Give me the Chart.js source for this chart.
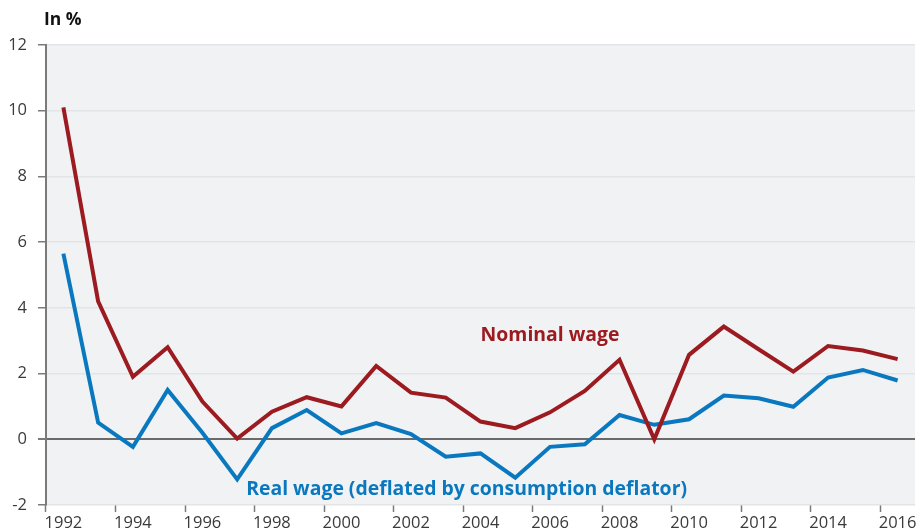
<!DOCTYPE html>
<html>
<head>
<meta charset="utf-8">
<script src="https://cdn.jsdelivr.net/npm/chart.js@4.4.1/dist/chart.umd.min.js"></script>
<style>
  body { margin: 0; background: #ffffff; }
  #chart { display: block; }
</style>
</head>
<body>
<canvas id="chart" width="920" height="532"></canvas>
<script>
// years on the x axis
const years = ['1992', '1993', '1994', '1995', '1996', '1997', '1998', '1999', '2000', '2001',
    '2002', '2003', '2004', '2005', '2006', '2007', '2008', '2009', '2010', '2011',
    '2012', '2013', '2014', '2015', '2016'];

// nominal wage growth, in %
const nominalWage = [10.1, 4.2, 1.9, 2.8, 1.15, 0.02, 0.84, 1.28, 1.0, 2.23,
    1.42, 1.27, 0.54, 0.34, 0.82, 1.47, 2.42, 0.0, 2.57, 3.43,
    2.74, 2.06, 2.84, 2.7, 2.44];

// real wage growth (deflated by consumption deflator), in %
const realWage = [5.65, 0.51, -0.23, 1.5, 0.2, -1.22, 0.34, 0.89, 0.18, 0.49,
    0.16, -0.53, -0.43, -1.17, -0.23, -0.15, 0.74, 0.44, 0.61, 1.33,
    1.25, 0.99, 1.88, 2.11, 1.79];

const yMin = -2;
const yMax = 12;
const yStep = 2;

const axisTitle = 'In %';
const nominalLabel = 'Nominal wage';
const realLabel = 'Real wage (deflated by consumption deflator)';

const RED = '#9b1b20';
const BLUE = '#0a78bf';

Chart.defaults.font.family = "'Open Sans', 'Noto Sans', sans-serif";

// grey plot background + inline labels
const decorations = {
    id: 'decorations',
    beforeDraw(chart) {
        const { ctx, chartArea } = chart;
        ctx.save();
        ctx.fillStyle = '#f1f2f4';
        ctx.fillRect(chartArea.left, chartArea.top, chartArea.right - chartArea.left, chartArea.bottom - chartArea.top);
        ctx.restore();
    },
    afterDraw(chart) {
        const { ctx } = chart;
        const x = chart.scales.x;
        const y = chart.scales.y;
        ctx.save();
        ctx.textBaseline = 'alphabetic';

        ctx.fillStyle = '#111111';
        ctx.font = "bold 17.5px 'Open Sans', sans-serif";
        ctx.textAlign = 'left';
        ctx.fillText(axisTitle, 44, 24.5);

        ctx.textAlign = 'center';
        ctx.font = "bold 19.4px 'Open Sans', sans-serif";
        ctx.fillStyle = RED;
        ctx.fillText(nominalLabel, x.getPixelForValue(14), y.getPixelForValue(3.0));

        ctx.fillStyle = BLUE;
        ctx.fillText(realLabel, x.getPixelForValue(11.6), y.getPixelForValue(-1.7));
        ctx.restore();
    }
};

const data = {
    labels: years,
    datasets: [
        {
            label: nominalLabel,
            data: nominalWage,
            borderColor: RED,
            backgroundColor: RED,
            borderWidth: 4,
            pointRadius: 0,
            fill: false,
        },
        {
            label: realLabel,
            data: realWage,
            borderColor: BLUE,
            backgroundColor: BLUE,
            borderWidth: 4,
            pointRadius: 0,
            fill: false,
        },
    ]
};

const config = {
    type: 'line',
    data: data,
    options: {
        responsive: false,
        animation: false,
        devicePixelRatio: 1,
        layout: {
            padding: { left: 0, top: 45, right: 5, bottom: 0 }
        },
        elements: {
            line: {
                tension: 0,
                borderJoinStyle: 'miter',
                borderCapStyle: 'butt',
            }
        },
        scales: {
            x: {
                offset: true,
                afterFit: (scale) => { scale.height = 27; },
                border: { display: false },
                grid: {
                    offset: true,
                    drawOnChartArea: false,
                    tickLength: 7,
                    tickWidth: 1.5,
                    tickColor: (ctx) => ctx.index % 2 === 0 ? '#7a7a7a' : 'rgba(0,0,0,0)',
                },
                ticks: {
                    autoSkip: false,
                    maxRotation: 0,
                    padding: 1,
                    color: '#3a3a3a',
                    font: { size: 16.5 },
                    callback: function (value, index) {
                        return index % 2 === 0 ? this.getLabelForValue(value) : '';
                    }
                }
            },
            y: {
                min: yMin,
                max: yMax,
                afterFit: (scale) => { scale.width = 46; },
                border: { color: '#7a7a7a', width: 2 },
                grid: {
                    color: (ctx) => ctx.tick && ctx.tick.value === 0 ? '#6a6a6a' : '#e3e4e7',
                    lineWidth: (ctx) => ctx.tick && ctx.tick.value === 0 ? 2 : 1.5,
                    tickColor: '#7a7a7a',
                    tickLength: 8,
                },
                ticks: {
                    stepSize: yStep,
                    padding: 11,
                    color: '#3a3a3a',
                    font: { size: 16.5 },
                }
            }
        },
        plugins: {
            legend: { display: false },
            title: { display: false },
            tooltip: { enabled: false },
        },
    },
    plugins: [decorations],
};

new Chart(document.getElementById('chart').getContext('2d'), config);
</script>
</body>
</html>
